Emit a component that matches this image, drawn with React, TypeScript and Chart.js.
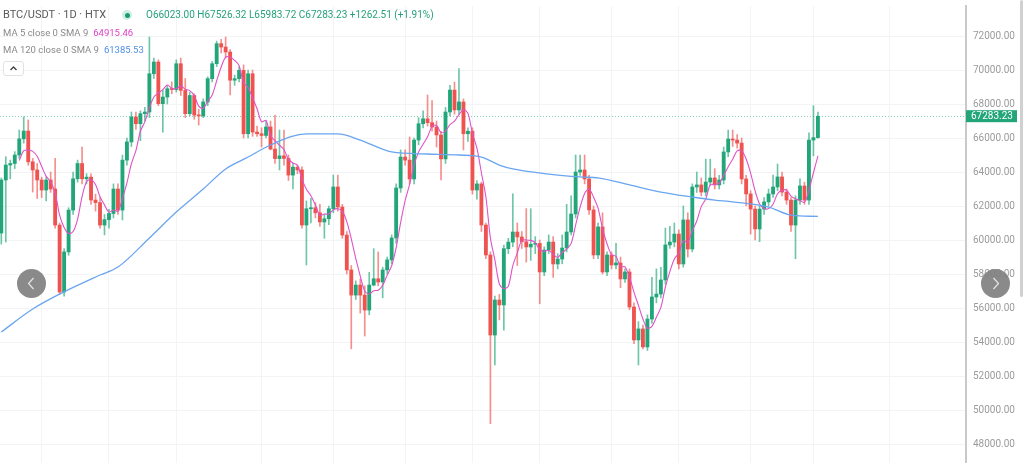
import React, { useEffect, useRef } from "react";
import { Chart, registerables } from "chart.js";

Chart.register(...registerables);

// ---- data (BTC/USDT 1D) ----
const opens = [
  60410, 63530, 64410, 64500, 65000, 65950, 66410, 64600, 64120, 63530,
  62940, 63530, 63000, 60880, 56940, 59300, 61760, 63600, 64500, 63600,
  63700, 62350, 62200, 60880, 61200, 61560, 63000, 61760, 64700, 65770,
  67240, 66840, 67430, 67530, 69780, 70470, 68020, 68410, 68900, 68850,
  70370, 68800, 67430, 68500, 67350, 67300, 68120, 69490, 70370, 71550,
  71350, 71060, 69400, 69490, 69980, 66250, 69780, 66350, 66250, 66150,
  66650, 65350, 64790, 64950, 64800, 63820, 64290, 64120, 60880, 61840,
  61900, 61600, 61060, 61250, 61840, 63120, 61940, 60290, 58240, 56760,
  57350, 56760, 55880, 57350, 57720, 57530, 58240, 58830, 60120, 63060,
  64880, 64700, 63590, 65880, 66840, 67130, 66900, 66650, 66180, 64770,
  67530, 68820, 67650, 68120, 66250, 66400, 62940, 63300, 60880, 59120,
  54410, 56470, 56180, 59490, 59880, 60470, 60180, 59900, 59590, 59750,
  59800, 58120, 59410, 59880, 58590, 58880, 59530, 60470, 61530, 64000,
  64120, 63590, 61770, 59120, 60770, 58120, 59120, 58530, 58650, 57710,
  58120, 56060, 54120, 54770, 53710, 55350, 56650, 56820, 57650, 59710,
  59880, 60350, 58590, 61180, 59470, 63120, 63240, 62820, 63410, 63650,
  63240, 63530, 65180, 65940, 65880, 65700, 63590, 62710, 61820, 60650,
  61820, 62240, 62710, 63120, 63710, 62820, 62350, 60880, 62350, 63180,
  62350, 65880, 66023,
];
const highs = [
  63650, 64900, 64700, 65200, 66470, 67240, 67060, 64800, 64500, 63700,
  63700, 64000, 64800, 61000, 59500, 61900, 64000, 64700, 65470, 63900,
  63900, 62700, 62500, 61500, 61800, 63300, 63300, 65000, 66000, 67530,
  67530, 67600, 67800, 71940, 70700, 70600, 68800, 69100, 69300, 70600,
  70700, 69500, 68700, 68600, 67700, 68300, 69600, 70500, 71700, 71800,
  71940, 71200, 69700, 70200, 70300, 70000, 70000, 66700, 66600, 67000,
  67000, 67350, 66470, 66470, 65000, 64500, 64400, 64300, 62300, 62450,
  62200, 62100, 61500, 62000, 63820, 63820, 62100, 60500, 58500, 57600,
  57700, 57300, 58100, 59490, 59300, 58400, 59000, 60300, 63300, 65300,
  65300, 66060, 66000, 67200, 67600, 68530, 68200, 67000, 66400, 67800,
  69100, 69290, 70080, 68300, 66600, 66600, 63500, 63400, 61000, 59300,
  56700, 56800, 59700, 60100, 62720, 61000, 60500, 61850, 61840, 60200,
  60000, 59600, 60300, 60200, 59200, 60300, 62100, 62600, 65000, 65000,
  65000, 63800, 62000, 61000, 61600, 59300, 59300, 59800, 59000, 58300,
  58300, 56300, 55200, 55000, 55600, 57800, 58300, 58400, 60700, 60800,
  61000, 60600, 62000, 61600, 63300, 64000, 63650, 64760, 64760, 64200,
  63800, 65470, 66470, 66470, 66200, 66000, 63800, 62900, 62000, 62000,
  62500, 63000, 63820, 64470, 64000, 63000, 62500, 62600, 63600, 63400,
  66300, 67900, 67526.32,
];
const lows = [
  59760, 59880, 63600, 64200, 64800, 65700, 64400, 62820, 62440, 62500,
  62300, 62800, 60700, 56820, 56700, 59100, 61500, 63400, 63300, 63300,
  62100, 61700, 60700, 60300, 60700, 61300, 61500, 61180, 64400, 65500,
  66500, 65840, 67000, 67200, 69500, 67900, 66350, 68000, 68600, 68700,
  68500, 67200, 67300, 67100, 66760, 67200, 67900, 69300, 70200, 71000,
  70700, 68530, 69100, 69300, 66000, 66000, 66100, 66100, 65470, 66000,
  65300, 64500, 64120, 64400, 63500, 63000, 63900, 60700, 58530, 61000,
  61300, 60800, 60100, 60900, 61600, 61700, 60100, 58000, 53600, 56500,
  55700, 54350, 55600, 57300, 57300, 56600, 58000, 58600, 59800, 62800,
  64400, 63300, 63300, 65600, 66600, 66700, 66400, 65470, 63530, 64500,
  67300, 67400, 67400, 65300, 65800, 62700, 62400, 60500, 58900, 49200,
  52650, 55300, 54700, 59200, 59600, 58500, 59500, 58700, 58800, 59200,
  56250, 57900, 59200, 57800, 58300, 58600, 59300, 60300, 61300, 63800,
  63300, 61500, 58900, 58900, 58000, 57900, 58300, 58300, 57200, 57500,
  55900, 53900, 52650, 53600, 53500, 55100, 56300, 56600, 57400, 59500,
  59600, 58300, 58400, 59000, 59300, 62800, 62600, 62600, 63200, 63000,
  63000, 63300, 64900, 65500, 65400, 63300, 62000, 60350, 60000, 59900,
  61500, 62000, 62500, 62900, 62600, 62100, 60500, 58900, 62100, 62100,
  62100, 64950, 65983.72,
];
const closes = [
  63530, 64410, 64500, 65000, 65950, 66410, 64600, 64120, 63530, 62940,
  63530, 63000, 60880, 56940, 59300, 61760, 63600, 64500, 63600, 63700,
  62350, 62200, 60880, 61200, 61560, 63000, 61760, 64700, 65770, 67240,
  66840, 67430, 67530, 69780, 70470, 68020, 68410, 68900, 68850, 70370,
  68800, 67430, 68500, 67350, 67300, 68120, 69490, 70370, 71550, 71350,
  71060, 69400, 69490, 69980, 66250, 69780, 66350, 66250, 66150, 66650,
  65350, 64790, 64950, 64800, 63820, 64290, 64120, 60880, 61840, 61900,
  61600, 61060, 61250, 61840, 63120, 61940, 60290, 58240, 56760, 57350,
  56760, 55880, 57350, 57720, 57530, 58240, 58830, 60120, 63060, 64880,
  64700, 63590, 65880, 66840, 67130, 66900, 66650, 66180, 64770, 67530,
  68820, 67650, 68120, 66250, 66400, 62940, 63300, 60880, 59120, 54410,
  56470, 56180, 59490, 59880, 60470, 60180, 59900, 59590, 59750, 59800,
  58120, 59410, 59880, 58590, 58880, 59530, 60470, 61530, 64000, 64120,
  63590, 61770, 59120, 60770, 58120, 59120, 58530, 58650, 57710, 58120,
  56060, 54120, 54770, 53710, 55350, 56650, 56820, 57650, 59710, 59880,
  60350, 58590, 61180, 59470, 63120, 63240, 62820, 63410, 63650, 63240,
  63530, 65180, 65940, 65880, 65700, 63590, 62710, 61820, 60650, 61820,
  62240, 62710, 63120, 63710, 62820, 62350, 60880, 62350, 63180, 62350,
  65880, 66023, 67283.23,
];

// MA 120 line at these candle indices
const ma120Index = [0, 7, 13, 22, 26, 33, 39, 45, 50, 55, 60, 68, 75, 80, 87, 95, 102, 107, 111, 114, 122, 129, 133, 140, 147, 154, 159, 163, 171, 176, 182];
const ma120Values = [54590, 55940, 56820, 57940, 58410, 60120, 61650, 63000, 64180, 64880, 65590, 66240, 66240, 65880, 65180, 65060, 65000, 64880, 64410, 64180, 63880, 63710, 63650, 63240, 62820, 62530, 62350, 62240, 61940, 61470, 61385.53];

const yTicks = [48000, 50000, 52000, 54000, 56000, 58000, 60000, 62000, 64000, 66000, 68000, 70000, 72000];
const timeGridIndex = [9, 24, 39, 58, 74, 90, 105, 120, 136, 151, 167, 181, 198];
const maPeriod = 5;

const UP = "#22a679";
const DOWN = "#ef5350";
const UP_WICK = "rgba(34,166,121,0.65)";
const DOWN_WICK = "rgba(239,83,80,0.65)";
const MA5_COLOR = "#e052c9";
const MA120_COLOR = "#6aa5ef";

export default function App() {
  const ref = useRef<HTMLCanvasElement>(null);

  useEffect(() => {
    document.body.style.margin = "0";
    const n = closes.length;
    const isUp = closes.map((c, i) => c >= opens[i]);
    const bodyData = closes.map((c, i) => ({ x: i, y: [opens[i], c] }));
    const wickData = closes.map((_, i) => ({ x: i, y: [lows[i], highs[i]] }));
    const ma5: { x: number; y: number }[] = [];
    for (let i = maPeriod - 1; i < n; i++) {
      let s = 0;
      for (let k = i - maPeriod + 1; k <= i; k++) s += closes[k];
      ma5.push({ x: i, y: s / maPeriod });
    }
    const ma120 = ma120Index.map((x, i) => ({ x, y: ma120Values[i] }));
    const last = closes[n - 1];

    const priceLine = {
      id: "priceLine",
      beforeDatasetsDraw(chart: any) {
        const { ctx, chartArea, scales } = chart;
        const y = Math.round(scales.y.getPixelForValue(last)) + 0.5;
        ctx.save();
        ctx.strokeStyle = "rgba(34,166,121,0.55)";
        ctx.lineWidth = 1;
        ctx.setLineDash([1, 2]);
        ctx.beginPath();
        ctx.moveTo(chartArea.left, y);
        ctx.lineTo(chartArea.right, y);
        ctx.stroke();
        ctx.restore();
      },
      afterDraw(chart: any) {
        const { ctx, chartArea, scales } = chart;
        const y = scales.y.getPixelForValue(last);
        ctx.save();
        ctx.fillStyle = UP;
        ctx.fillRect(chartArea.right, y - 6, 51, 12);
        ctx.fillStyle = "#ffffff";
        ctx.font = "10px Roboto, sans-serif";
        ctx.textBaseline = "middle";
        ctx.textAlign = "left";
        ctx.fillText(last.toFixed(2), chartArea.right + 5, y + 0.5);
        ctx.restore();
      },
    };

    const chart = new Chart(ref.current as HTMLCanvasElement, {
      type: "bar",
      data: {
        datasets: [
          {
            type: "line",
            data: ma120 as any,
            borderColor: MA120_COLOR,
            borderWidth: 1.3,
            pointRadius: 0,
            tension: 0.4,
            cubicInterpolationMode: "monotone",
            order: 0,
          } as any,
          {
            type: "line",
            data: ma5 as any,
            borderColor: MA5_COLOR,
            borderWidth: 1.1,
            pointRadius: 0,
            tension: 0.3,
            order: 0,
          } as any,
          {
            data: wickData as any,
            backgroundColor: isUp.map((u) => (u ? UP_WICK : DOWN_WICK)),
            barThickness: 1,
            grouped: false,
            minBarLength: 1,
            order: 2,
          } as any,
          {
            data: bodyData as any,
            backgroundColor: isUp.map((u) => (u ? UP : DOWN)),
            barThickness: 3.2,
            grouped: false,
            minBarLength: 1,
            order: 1,
          } as any,
        ],
      },
      options: {
        responsive: false,
        animation: false,
        layout: { padding: { top: 6, left: 0, right: 0, bottom: 0 } },
        plugins: { legend: { display: false }, tooltip: { enabled: false } },
        scales: {
          x: {
            type: "linear",
            min: -0.29,
            max: 215,
            offset: false,
            grid: { color: "#f3f4f6", drawTicks: false, offset: false },
            border: { display: false },
            ticks: { display: false },
            afterBuildTicks: (s: any) => {
              s.ticks = timeGridIndex.map((v) => ({ value: v }));
            },
            afterFit: (s: any) => {
              s.height = 0;
            },
          } as any,
          y: {
            position: "right",
            min: 46883,
            max: 73765,
            grid: { color: "#f3f4f6", drawTicks: true, tickLength: 7, tickColor: "rgba(0,0,0,0)" },
            border: { color: "#c9c9c9", width: 2 },
            ticks: {
              color: "#9b9b9b",
              font: { family: "Roboto, sans-serif", size: 10 },
              padding: 0,
              callback: (v: any) => Number(v).toFixed(2),
            },
            afterBuildTicks: (s: any) => {
              s.ticks = yTicks.map((v) => ({ value: v }));
            },
            afterFit: (s: any) => {
              s.width = 58;
            },
          } as any,
        },
      },
      plugins: [priceLine],
    });
    return () => chart.destroy();
  }, []);

  const small: React.CSSProperties = {
    position: "absolute",
    fontSize: 9.5,
    lineHeight: "12px",
    whiteSpace: "nowrap",
  };

  return (
    <div
      style={{
        position: "relative",
        width: 1024,
        height: 463,
        overflow: "hidden",
        background: "#ffffff",
        fontFamily: "Roboto, sans-serif",
      }}
    >
      <canvas ref={ref} width={1024} height={469} style={{ display: "block" }} />
      <div style={{ position: "absolute", left: 3, top: 8, fontSize: 11, lineHeight: "14px", color: "#5a5a5a", whiteSpace: "nowrap" }}>
        BTC/USDT · 1D · HTX
      </div>
      <div style={{ position: "absolute", left: 122, top: 10, width: 10, height: 10, borderRadius: "50%", background: "#cdeee2" }} />
      <div style={{ position: "absolute", left: 124.5, top: 12.5, width: 5, height: 5, borderRadius: "50%", background: "#1c9b72" }} />
      <div style={{ ...small, fontSize: 10, left: 146, top: 9, color: "#26a17b" }}>
        O66023.00 H67526.32 L65983.72 C67283.23 +1262.51 (+1.91%)
      </div>
      <div style={{ ...small, left: 3, top: 27, color: "#8a8a8a" }}>
        MA 5 close 0 SMA 9<span style={{ color: "#dc3fc4", marginLeft: 5 }}>64915.46</span>
      </div>
      <div style={{ ...small, left: 3, top: 44, color: "#8a8a8a" }}>
        MA 120 close 0 SMA 9<span style={{ color: "#4f8fe6", marginLeft: 5 }}>61385.53</span>
      </div>
      <div
        style={{
          position: "absolute",
          left: 3,
          top: 61,
          width: 19,
          height: 13,
          border: "1px solid #e2e2e2",
          borderRadius: 3,
          background: "#fff",
        }}
      >
        <svg width="19" height="13" style={{ display: "block" }}>
          <polyline points="6.5,8 9.5,5 12.5,8" fill="none" stroke="#444" strokeWidth="1.4" />
        </svg>
      </div>
      <div style={{ position: "absolute", left: 17, top: 269, width: 29, height: 29, borderRadius: "50%", background: "rgba(128,128,128,0.92)" }}>
        <svg width="29" height="29" style={{ display: "block" }}>
          <polyline points="16.5,9 11.5,14.5 16.5,20" fill="none" stroke="#e6e6e6" strokeWidth="1.2" />
        </svg>
      </div>
      <div style={{ position: "absolute", left: 981, top: 269, width: 29, height: 29, borderRadius: "50%", background: "rgba(128,128,128,0.92)" }}>
        <svg width="29" height="29" style={{ display: "block" }}>
          <polyline points="12.5,9 17.5,14.5 12.5,20" fill="none" stroke="#e6e6e6" strokeWidth="1.2" />
        </svg>
      </div>
      <div style={{ position: "absolute", left: 1020, top: 0, width: 3, height: 297, borderRadius: 2, background: "#d0d0d0" }} />
    </div>
  );
}
